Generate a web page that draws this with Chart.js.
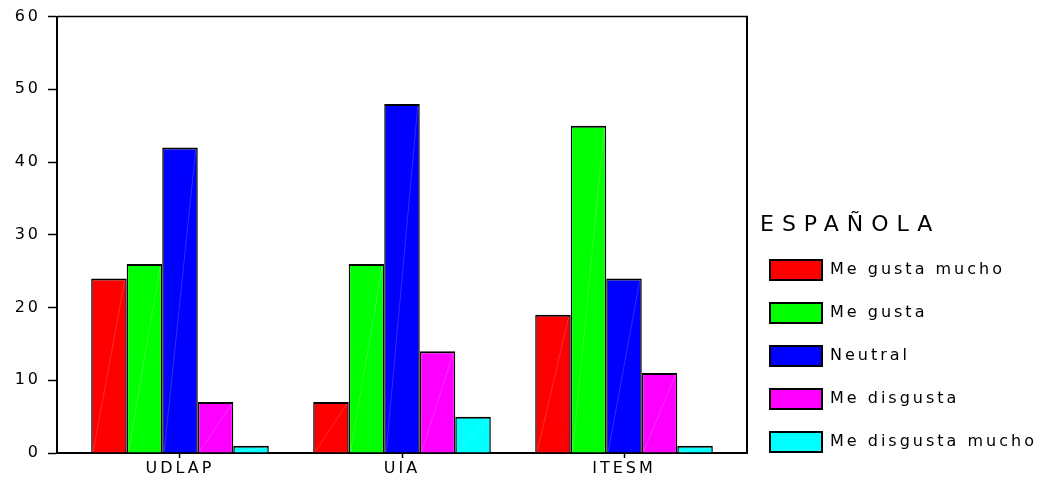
<!DOCTYPE html>
<html><head><meta charset="utf-8">
<script src="https://cdn.jsdelivr.net/npm/chart.js@4/dist/chart.umd.min.js"></script>
<style>html,body{margin:0;padding:0;background:#fff;}#wrap{width:1045px;height:478px;position:relative;}</style>
</head><body><div id="wrap"><canvas id="c" width="1045" height="478"></canvas></div>
<script>
const categories = ['UDLAP', 'UIA', 'ITESM'];
const seriesNames = ['Me gusta mucho', 'Me gusta', 'Neutral', 'Me disgusta', 'Me disgusta mucho'];
const meGustaMucho = [24, 7, 19];
const meGusta = [26, 26, 45];
const neutral = [42, 48, 24];
const meDisgusta = [7, 14, 11];
const meDisgustaMucho = [1, 5, 1];
const yTicks = [0, 10, 20, 30, 40, 50, 60];
const legendTitle = 'ESPAÑOLA';
const seriesColors = ['#ff0000', '#00ff00', '#0000ff', '#ff00ff', '#00ffff'];

const seriesValues = [meGustaMucho, meGusta, neutral, meDisgusta, meDisgustaMucho];
const FONT = 'DejaVu Sans';
const LEGEND_WIDTH = 298;

const spacingPlugin = {
  id: 'spacing',
  beforeLayout(chart) {
    chart.ctx.letterSpacing = '3px';
    const lg = chart.legend;
    if (lg && !lg._widthPatched) {
      const origFit = lg.fit;
      lg.fit = function () { origFit.call(this); this.width = LEGEND_WIDTH; };
      lg._widthPatched = true;
    }
  },
  beforeDraw(chart) { chart.ctx.letterSpacing = '3px'; }
};
const sheenPlugin = {
  id: 'sheen',
  afterDatasetsDraw(chart) {
    const ctx = chart.ctx;
    ctx.save();
    ctx.strokeStyle = 'rgba(255,255,255,0.22)';
    ctx.lineWidth = 0.8;
    chart.data.datasets.forEach((ds, di) => {
      chart.getDatasetMeta(di).data.forEach(bar => {
        const p = bar.getProps(['x', 'y', 'base', 'width'], true);
        ctx.beginPath();
        ctx.moveTo(p.x - p.width / 2 + 2, p.base - 1);
        ctx.lineTo(p.x + p.width / 2 - 2, p.y + 2);
        ctx.stroke();
      });
    });
    ctx.restore();
  }
};
const framePlugin = {
  id: 'frame',
  afterDatasetsDraw(chart) {
    const {ctx, chartArea: a} = chart;
    ctx.save();
    ctx.strokeStyle = '#000';
    ctx.lineWidth = 1.5;
    ctx.beginPath(); ctx.moveTo(a.left, a.top); ctx.lineTo(a.right + 1, a.top); ctx.stroke();
    ctx.lineWidth = 2;
    ctx.beginPath(); ctx.moveTo(a.right, a.top); ctx.lineTo(a.right, a.bottom); ctx.stroke();
    ctx.restore();
  }
};
const titlePlugin = {
  id: 'legendTitle',
  afterDraw(chart) {
    const lg = chart.legend;
    if (!lg || !lg.columnSizes) return;
    const ctx = chart.ctx;
    const firstTop = lg.bottom - lg.columnSizes[0].height;
    ctx.save();
    ctx.letterSpacing = '8px';
    ctx.font = '22px "' + FONT + '"';
    ctx.fillStyle = '#000';
    ctx.textBaseline = 'middle';
    ctx.textAlign = 'left';
    ctx.fillText(legendTitle, lg.left + 13, firstTop - 35);
    ctx.restore();
  }
};

Chart.defaults.color = '#000';
Chart.defaults.font.family = FONT;
Chart.defaults.font.size = 16;

new Chart(document.getElementById('c'), {
  type: 'bar',
  data: {
    datasets: seriesNames.map((name, s) => ({
      label: name,
      data: seriesValues[s].map((v, i) => ({x: i, y: v})),
      backgroundColor: seriesColors[s],
      borderColor: '#000',
      borderWidth: {top: 2, left: 1.5, right: 1.5, bottom: 0},
      borderSkipped: false,
      categoryPercentage: 0.8,
      barPercentage: 1.0
    }))
  },
  options: {
    responsive: false,
    animation: false,
    devicePixelRatio: 1,
    layout: {padding: {top: 15, right: 0, bottom: 3, left: 0}},
    scales: {
      x: {
        type: 'linear',
        min: -0.554,
        max: 2.554,
        offset: false,
        afterBuildTicks(scale) { scale.ticks = categories.map((c, i) => ({value: i})); },
        afterFit(scale) { scale.height = 22; },
        ticks: {
          padding: 1,
          autoSkip: false,
          maxRotation: 0,
          color: '#000',
          font: {family: FONT, size: 16},
          callback: (v) => categories[v]
        },
        grid: {display: true, offset: false, drawOnChartArea: false, drawTicks: true, tickLength: 5, tickColor: '#000', tickWidth: 1.5},
        border: {display: true, color: '#000', width: 2}
      },
      y: {
        min: 0,
        max: 60,
        afterBuildTicks(scale) { scale.ticks = yTicks.map(v => ({value: v})); },
        afterFit(scale) { scale.width = 57; },
        ticks: {padding: 7, color: '#000', font: {family: FONT, size: 16}},
        grid: {display: true, drawOnChartArea: false, drawTicks: true, tickLength: 9, tickColor: '#000', tickWidth: 1.5},
        border: {display: true, color: '#000', width: 2}
      }
    },
    plugins: {
      tooltip: {enabled: false},
      legend: {
        position: 'right',
        align: 'end',
        labels: {
          boxWidth: 52,
          boxHeight: 20,
          padding: 23,
          color: '#000',
          font: {family: FONT, size: 16},
          generateLabels(chart) {
            const items = Chart.defaults.plugins.legend.labels.generateLabels(chart);
            items.forEach(it => { it.lineWidth = 2; it.strokeStyle = '#000'; });
            return items;
          }
        }
      }
    }
  },
  plugins: [spacingPlugin, sheenPlugin, framePlugin, titlePlugin]
});
</script>
</body></html>
